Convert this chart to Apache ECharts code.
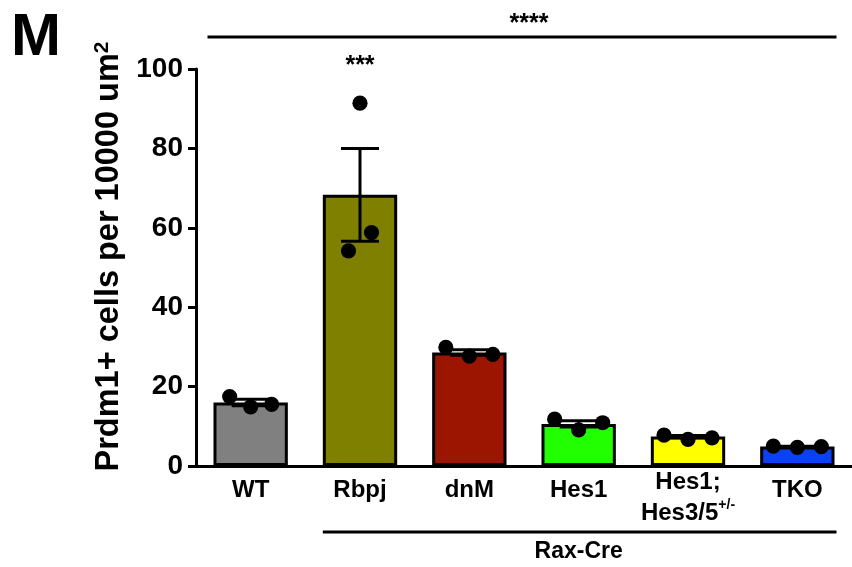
<!DOCTYPE html>
<html>
<head>
<meta charset="utf-8">
<script src="https://cdn.jsdelivr.net/npm/echarts@6/dist/echarts.min.js"></script>
<style>html,body{margin:0;padding:0;background:#fff}#c{width:852px;height:567px}</style>
</head>
<body>
<div id="c"></div>
<script>
// ---- data ----
var categories = ['WT', 'Rbpj', 'dnM', 'Hes1', 'Hes1;\nHes3/5', 'TKO'];
var means = [16.0, 68.3, 28.6, 10.6, 7.4, 4.9];
var sems = [0.8, 11.7, 0.7, 0.8, 0.3, 0.1];
var pointsWT = [17.5, 14.9, 15.5];
var pointsRbpj = [54.2, 91.4, 58.8];
var pointsDnM = [29.9, 27.7, 28.1];
var pointsHes1 = [11.8, 9.1, 10.9];
var pointsHes135 = [7.8, 6.7, 7.1];
var pointsTKO = [5.0, 4.7, 4.9];
var yTicks = [0, 20, 40, 60, 80, 100];
var sigAll = '****';
var sigRbpj = '***';
var groupLabel = 'Rax-Cre';

// ---- styles ----
var barColors = ['#808080', '#808000', '#9c1500', '#22ff00', '#ffff00', '#0a42f2'];
var jitterSpread = [21, 11.5, 23.5, 24, 24, 24];
var FONT = '"Liberation Sans", Arial, Helvetica, sans-serif';

var allPoints = [pointsWT, pointsRbpj, pointsDnM, pointsHes1, pointsHes135, pointsTKO];
var pointData = [];
allPoints.forEach(function (arr, ci) {
  arr.forEach(function (v, pi) { pointData.push([ci, v, pi]); });
});
var errData = means.map(function (m, i) { return [i, m, sems[i]]; });

var chart = echarts.init(document.getElementById('c'), null, {renderer: 'canvas'});
var option = {
  animation: false,
  backgroundColor: '#fff',
  grid: {left: 196, top: 69, width: 656, height: 397, containLabel: false},
  xAxis: {
    type: 'category',
    data: categories,
    axisLine: {lineStyle: {color: '#000', width: 3}},
    axisTick: {show: false},
    axisLabel: {
      interval: 0,
      margin: 1,
      fontFamily: FONT, fontWeight: 'bold', fontSize: 24, color: '#000',
      lineHeight: 31,
      formatter: function (v) {
        if (v.indexOf('Hes3/5') >= 0) return 'Hes1;\nHes3/5{sup|+/-}';
        return '{s|' + v + '}';
      },
      rich: {
        s: {fontFamily: FONT, fontWeight: 'bold', fontSize: 24, lineHeight: 47},
        sup: {fontFamily: FONT, fontWeight: 'bold', fontSize: 14, verticalAlign: 'top', lineHeight: 31, padding: [0, 0, 10, 0]}
      }
    }
  },
  yAxis: {
    type: 'value', min: 0, max: 100, interval: 20,
    splitLine: {show: false},
    axisLine: {show: true, lineStyle: {color: '#000', width: 3}},
    axisTick: {show: true, length: 8, lineStyle: {color: '#000', width: 3}},
    axisLabel: {
      margin: 13, fontFamily: FONT, fontWeight: 'bold', fontSize: 28, color: '#000',
      formatter: function (v) { return yTicks.indexOf(v) >= 0 ? String(v) : ''; }
    },
    name: 'Prdm1+ cells per 10000 um{sup|2}',
    nameLocation: 'middle',
    nameGap: 67,
    nameTextStyle: {
      fontFamily: FONT, fontWeight: 'bold', fontSize: 32.5, color: '#000',
      padding: [0, 0, 0, 22],
      rich: {sup: {fontFamily: FONT, fontWeight: 'bold', fontSize: 21, verticalAlign: 'top', padding: [0, 0, 14, 0]}}
    }
  },
  series: [
    {
      type: 'bar', barWidth: '68%', z: 2,
      data: means.map(function (m, i) {
        return {value: m, itemStyle: {color: barColors[i], borderColor: '#000', borderWidth: 3}};
      })
    },
    {
      type: 'custom', z: 3, data: errData,
      renderItem: function (params, api) {
        var x = api.value(0), m = api.value(1), e = api.value(2);
        var hi = api.coord([x, m + e]);
        var lo = api.coord([x, m - e]);
        var hw = 19;
        var st = {stroke: '#000', lineWidth: 3};
        return {type: 'group', children: [
          {type: 'line', shape: {x1: hi[0], y1: hi[1], x2: lo[0], y2: lo[1]}, style: st},
          {type: 'line', shape: {x1: hi[0] - hw, y1: hi[1], x2: hi[0] + hw, y2: hi[1]}, style: st},
          {type: 'line', shape: {x1: lo[0] - hw, y1: lo[1], x2: lo[0] + hw, y2: lo[1]}, style: st}
        ]};
      }
    },
    {
      type: 'custom', z: 4, data: pointData,
      renderItem: function (params, api) {
        var ci = api.value(0), v = api.value(1), pi = api.value(2);
        var p = api.coord([ci, v]);
        var dx = (pi - 1) * jitterSpread[ci];
        return {type: 'circle', shape: {cx: p[0] + dx, cy: p[1], r: 7.6}, style: {fill: '#000'}};
      }
    }
  ]
};
chart.setOption(option);

// annotations positioned from the axes
var bw = 656 / categories.length * 0.68;
var xWT = chart.convertToPixel({gridIndex: 0}, [0, 0])[0];
var xRb = chart.convertToPixel({gridIndex: 0}, [1, 0])[0];
var xTKO = chart.convertToPixel({gridIndex: 0}, [5, 0])[0];
var yTop = chart.convertToPixel({gridIndex: 0}, [0, 100])[1];
var yZero = chart.convertToPixel({gridIndex: 0}, [0, 0])[1];
var lineStyle = {stroke: '#000', lineWidth: 3};
var txt = function (s, x, y, size) {
  return {type: 'text', x: x, y: y, style: {text: s, fontFamily: FONT, fontWeight: 'bold', fontSize: size, fill: '#000', align: 'center', verticalAlign: 'middle'}};
};
chart.setOption({
  graphic: [
    {type: 'text', left: 11, top: 8, style: {text: 'M', fontFamily: FONT, fontWeight: 'bold', fontSize: 60, fill: '#000'}},
    {type: 'line', shape: {x1: xWT - bw / 2 - 6, y1: yTop - 32, x2: xTKO + bw / 2 + 2, y2: yTop - 32}, style: lineStyle},
    txt(sigAll, 529, yTop - 45, 25),
    txt(sigRbpj, xRb, yTop - 3, 25),
    {type: 'line', shape: {x1: xRb - bw / 2, y1: yZero + 66, x2: xTKO + bw / 2 + 2, y2: yZero + 66}, style: lineStyle},
    txt(groupLabel, (xRb - bw / 2 + xTKO + bw / 2) / 2, yZero + 86, 23)
  ]
});
</script>
</body>
</html>
